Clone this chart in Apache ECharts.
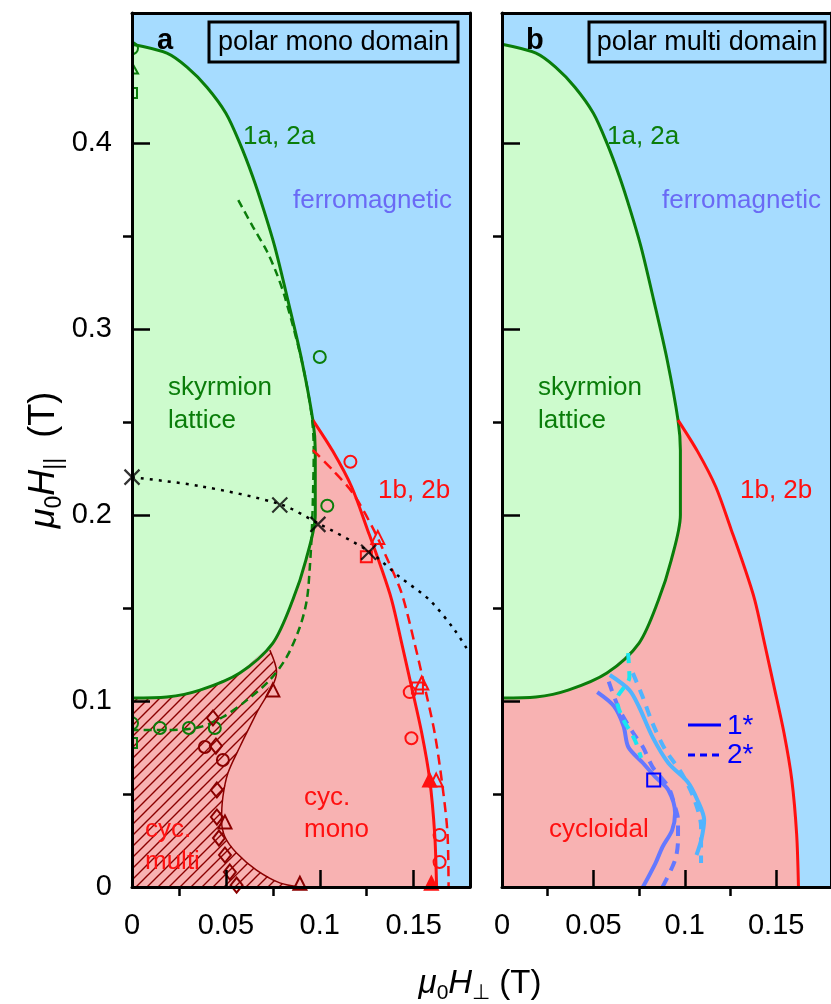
<!DOCTYPE html>
<html><head><meta charset="utf-8">
<script src="https://cdn.jsdelivr.net/npm/echarts@6/dist/echarts.min.js"></script>
<style>html,body{margin:0;padding:0;background:#fff}#c{width:831px;height:1004px}</style>
</head><body><div id="c"></div>
<script>
// ---------------- data ----------------
const xTicks = [0, 0.05, 0.1, 0.15];
const xMinorTicks = [0.025, 0.075, 0.125];
const yTicks = [0, 0.1, 0.2, 0.3, 0.4];
const yMinorTicks = [0.05, 0.15, 0.25, 0.35];

// skyrmion lattice boundary (solid green), from top of y axis round to bottom
const skyrmionBoundary = [[0,0.4532],[0.0186,0.4484],[0.0293,0.4409],[0.0399,0.4301],[0.05,0.4161],[0.0574,0.4],
  [0.0644,0.3817],[0.0702,0.364],[0.0761,0.3441],[0.083,0.3156],[0.0904,0.2833],[0.0963,0.2511],[0.0976,0.2349],
  [0.0976,0.2],[0.0926,0.1758],[0.0856,0.1543],[0.075,0.1312],[0.0574,0.1151],[0.0362,0.1059],[0.0186,0.1022],[0,0.1016]];
const junctionIndex = 11; // where the cycloidal boundary meets the skyrmion boundary
// cycloidal / ferromagnetic boundary (solid red)
const cycloidBoundary = [[0.0963,0.2511],[0.1069,0.2344],[0.117,0.2151],[0.1255,0.1919],[0.1324,0.1726],[0.1383,0.1543],
  [0.1436,0.1312],[0.1489,0.1075],[0.1543,0.0828],[0.1585,0.0581],[0.1612,0.0285],[0.1622,0]];
// multi-domain (hatched) boundary, thin dark red
const multiBoundary = [[0.0734,0.1274],[0.077,0.1158],[0.0663,0.0935],[0.0574,0.0753],[0.0511,0.0613],[0.0484,0.0484],
  [0.0477,0.036],[0.0495,0.0269],[0.0557,0.0183],[0.0663,0.0091],[0.0787,0.0022],[0.0894,0]];
// dashed green
const greenDashed = [[0.0566,0.3694],[0.0644,0.355],[0.0718,0.342],[0.077,0.330],[0.0815,0.317],[0.0904,0.283],
  [0.0955,0.255],[0.0968,0.235],[0.0963,0.2075],[0.0957,0.19],[0.0947,0.172],[0.0931,0.1543],[0.0894,0.1398],
  [0.0824,0.1237],[0.0734,0.1113],[0.0612,0.1005],[0.0484,0.0914],[0.0362,0.086],[0.0186,0.0844],[0,0.0844]];
// dashed red
const redDashed = [[0.0963,0.235],[0.1069,0.2242],[0.1176,0.2118],[0.128,0.1935],[0.137,0.174],[0.1436,0.158],
  [0.1505,0.131],[0.1559,0.1075],[0.1612,0.0828],[0.1654,0.0538],[0.168,0.029],[0.1686,0]];
// dotted black
const blackDotted = [[0,0.2204],[0.0362,0.2156],[0.0787,0.2059],[0.0989,0.1957],[0.126,0.1806],[0.1426,0.1667],
  [0.1585,0.1543],[0.1718,0.1382],[0.179,0.127]];

// markers panel a
const greenCircles = [[0.1,0.285],[0.104,0.205],[0.0149,0.0855],[0.0303,0.0855],[0.0441,0.0855]];
const greenEdgeCircles = [[0,0.451],[0,0.088]];
const greenEdgeTriangles = [[0,0.440]];
const greenEdgeSquares = [[0,0.427],[0,0.0774]];
const redCircles = [[0.1163,0.2287],[0.1479,0.1048],[0.1488,0.080],[0.1638,0.028],[0.1638,0.0134]];
const redSquares = [[0.1248,0.1776],[0.152,0.107]];
const redTriangles = [[0.1309,0.188],[0.1543,0.1097],[0.162,0.0575]];
const redFilled = [[0.1585,0.0575],[0.1594,0.002]];
const darkDiamonds = [[0.0431,0.0909],[0.0447,0.0758],[0.0452,0.0522],[0.0452,0.0376],[0.0463,0.0263],
  [0.0495,0.0172],[0.0521,0.0081],[0.0557,0.001]];
const darkCircles = [[0.0388,0.0753],[0.0484,0.0683]];
const darkTriangles = [[0.075,0.106],[0.0495,0.035],[0.0894,0.002]];
const crossMarks = [[0,0.2204],[0.0787,0.2054],[0.099,0.195],[0.126,0.180]];

// panel b curves
const curve1Dark = [[0.0521,0.1048],[0.0612,0.0973],[0.0665,0.0866],[0.0691,0.0753],[0.0771,0.0667],[0.0840,0.0591],
  [0.0910,0.0522],[0.0947,0.0398],[0.0931,0.0306],[0.0878,0.0215],[0.0840,0.0129],[0.0771,0]];
const curve2Dark = [[0.0584,0.1104],[0.0643,0.0952],[0.0718,0.0828],[0.0771,0.0753],[0.0824,0.0645],[0.091,0.0538],
  [0.0947,0.043],[0.0963,0.036],[0.0963,0.0253],[0.0947,0.0145],[0.0878,0]];
const curve1Light = [[0.0590,0.114],[0.0697,0.1059],[0.075,0.0968],[0.0824,0.0806],[0.091,0.0667],[0.1016,0.0565],
  [0.1069,0.0468],[0.1106,0.036],[0.109,0.0253],[0.1064,0.0172]];
const curve2Light = [[0.0716,0.115],[0.077,0.1022],[0.0823,0.0882],[0.0894,0.0737],[0.0982,0.0613],[0.1053,0.0468],
  [0.1089,0.0323],[0.1089,0.0129]];
const curve2Cyan = [[0.069,0.1258],[0.0697,0.1129],[0.0628,0.1005],[0.0665,0.0898],[0.0707,0.0828],[0.0734,0.0774],[0.0761,0.0694]];
const blueSquare = [[0.083,0.0575]];

// ---------------- styling ----------------
const FONT = '"Liberation Sans", Arial, sans-serif';
const C = {bg:'#a6dcff', green:'#cdfbcd', red:'#f8b2b2', gLine:'#0a7d0a', rLine:'#ff1010', dark:'#8b0000',
  ferro:'#6a6af5', blue1:'#6478ff', blue2:'#50b4ff', cyan:'#19e6f0'};

// hatch pattern tile
const S = 11;
const tile = document.createElement('canvas'); tile.width = S; tile.height = S;
const tc = tile.getContext('2d');
tc.strokeStyle = C.dark; tc.lineWidth = 1.4;
tc.beginPath();
tc.moveTo(0, S); tc.lineTo(S, 0);
tc.moveTo(-2, 2); tc.lineTo(2, -2);
tc.moveTo(S - 2, S + 2); tc.lineTo(S + 2, S - 2);
tc.stroke();

// derived region polygons
const greenRegion = skyrmionBoundary.slice();
const redRegion = [[0,0]].concat(skyrmionBoundary.slice(junctionIndex).reverse(), cycloidBoundary.slice(1));
const hatchRegion = [[0,0],[0,0.12]].concat(multiBoundary);

const grids = [{left:132, top:13, width:338, height:874}, {left:502, top:13, width:338, height:874}];

function axesFor(g, showLabels) {
  const xs = [
    {gridIndex:g, type:'value', min:0, max:0.18, z:10,
      axisLine:{show:true, onZero:false, lineStyle:{color:'#000', width:3}},
      axisTick:{show:true, inside:true, length:17, lineStyle:{color:'#000', width:2.5}, customValues:xTicks},
      axisLabel:{show:true, customValues:xTicks, formatter:v=>String(v), fontSize:29, fontFamily:FONT, color:'#000', margin:24},
      splitLine:{show:false}},
    {gridIndex:g, type:'value', min:0, max:0.18, z:10,
      axisLine:{show:false}, axisLabel:{show:false}, splitLine:{show:false},
      axisTick:{show:true, inside:true, length:9, lineStyle:{color:'#000', width:2.5}, customValues:xMinorTicks}},
    {gridIndex:g, type:'value', min:0, max:0.18, position:'top', z:10,
      axisLine:{show:true, onZero:false, lineStyle:{color:'#000', width:3}},
      axisTick:{show:false}, axisLabel:{show:false}, splitLine:{show:false}}
  ];
  const ys = [
    {gridIndex:g, type:'value', min:0, max:0.47, z:10,
      axisLine:{show:true, onZero:false, lineStyle:{color:'#000', width:3}},
      axisTick:{show:true, inside:true, length:18, lineStyle:{color:'#000', width:2.5}, customValues:yTicks},
      axisLabel:{show:showLabels, customValues:yTicks, formatter:v=>String(v), fontSize:29, fontFamily:FONT, color:'#000', margin:20},
      splitLine:{show:false}},
    {gridIndex:g, type:'value', min:0, max:0.47, z:10,
      axisLine:{show:false}, axisLabel:{show:false}, splitLine:{show:false},
      axisTick:{show:true, inside:true, length:9, lineStyle:{color:'#000', width:2.5}, customValues:yMinorTicks}},
    {gridIndex:g, type:'value', min:0, max:0.47, position:'right', z:10,
      axisLine:{show:true, onZero:false, lineStyle:{color:'#000', width:3}},
      axisTick:{show:false}, axisLabel:{show:false}, splitLine:{show:false}}
  ];
  return {xs, ys};
}
const A = axesFor(0, true), B = axesFor(1, false);

function poly(points, fill, g, z) {
  return {type:'custom', coordinateSystem:'cartesian2d', xAxisIndex:g*3, yAxisIndex:g*3, clip:true, silent:true, z,
    data:[[0,0]],
    renderItem:(p, api)=>({type:'polygon', shape:{points:points.map(pt=>api.coord(pt))}, style:{fill}})};
}
function line(points, color, width, type, g, z, smooth) {
  return {type:'line', xAxisIndex:g*3, yAxisIndex:g*3, data:points, showSymbol:false, silent:true, clip:true,
    smooth: smooth===undefined ? 0.3 : smooth, z:z||5, animation:false,
    lineStyle:{color, width, type: type||'solid', cap:'butt'}};
}
function marks(points, symbol, size, color, filled, g) {
  return {type:'scatter', xAxisIndex:g*3, yAxisIndex:g*3, data:points, symbol, symbolSize:size, z:8, silent:true,
    clip:false,
    itemStyle:{color: filled ? color : 'rgba(0,0,0,0)', borderColor:color, borderWidth:2, opacity:1}};
}
// markers on the axis edge, clipped to the plot area like in the original
function edgeMarks(points, kind, r, color) {
  return {type:'custom', coordinateSystem:'cartesian2d', xAxisIndex:0, yAxisIndex:0, clip:true, silent:true, z:8,
    data:points,
    renderItem:(p, api)=>{
      const c = api.coord([api.value(0), api.value(1)]);
      const st = {fill:'none', stroke:color, lineWidth:2};
      if (kind === 'circle') return {type:'circle', shape:{cx:c[0], cy:c[1], r}, style:st};
      if (kind === 'rect') return {type:'rect', shape:{x:c[0]-r, y:c[1]-r, width:2*r, height:2*r}, style:st};
      return {type:'polygon', shape:{points:[[c[0], c[1]-r],[c[0]+r, c[1]+r*0.8],[c[0]-r, c[1]+r*0.8]]}, style:st};
    }};
}
const crossSym = 'path://M0,0L10,10M10,0L0,10';

const series = [];
for (const g of [0,1]) series.push(poly(redRegion, C.red, g, 1));
series.push(poly(hatchRegion, {image: tile, repeat:'repeat'}, 0, 2));
for (const g of [0,1]) {
  series.push(poly(greenRegion, C.green, g, 3));
  series.push(line(skyrmionBoundary, C.gLine, 3, 'solid', g, 6));
  series.push(line(cycloidBoundary, C.rLine, 3, 'solid', g, 6));
}
// panel a extras
series.push(line(multiBoundary, C.dark, 1.5, 'solid', 0, 5));
series.push(line(greenDashed, C.gLine, 2.5, [8,5], 0, 6));
series.push(line(redDashed, C.rLine, 2.5, [10,6], 0, 6));
series.push(line(blackDotted, '#000', 2.5, [3,6], 0, 6));
series.push(marks(greenCircles, 'circle', 12, C.gLine, false, 0));
series.push(edgeMarks(greenEdgeCircles, 'circle', 6, C.gLine));
series.push(edgeMarks(greenEdgeTriangles, 'triangle', 6, C.gLine));
series.push(edgeMarks(greenEdgeSquares, 'rect', 5, C.gLine));
series.push(marks(redCircles, 'circle', 12, C.rLine, false, 0));
series.push(marks(redSquares, 'rect', 11, C.rLine, false, 0));
series.push(marks(redTriangles, 'triangle', 13, C.rLine, false, 0));
series.push(marks(redFilled, 'triangle', 13, C.rLine, true, 0));
series.push(marks(darkDiamonds, 'diamond', [12,15], C.dark, false, 0));
series.push(marks(darkCircles, 'circle', 12, C.dark, false, 0));
series.push(marks(darkTriangles, 'triangle', 13, C.dark, false, 0));
series.push({type:'scatter', xAxisIndex:0, yAxisIndex:0, data:crossMarks, symbol:crossSym, symbolSize:15, z:9, silent:true,
  itemStyle:{color:'rgba(0,0,0,0)', borderColor:'#000', borderWidth:2.2}});
// panel b extras
series.push(line(curve1Dark, C.blue1, 4, 'solid', 1, 6));
series.push(line(curve2Dark, C.blue1, 4, [10,8], 1, 6));
series.push(line(curve1Light, C.blue2, 4, 'solid', 1, 6));
series.push(line(curve2Light, C.blue2, 4, [10,8], 1, 6));
series.push(line(curve2Cyan, C.cyan, 4, [10,8], 1, 7));
series.push(marks(blueSquare, 'rect', 13, '#0000ff', false, 1));

function txt(x, y, text, fill, size, extra) {
  return {type:'text', x, y, z:100, silent:true,
    style:{text, fill, font:(extra&&extra.bold?'bold ':'')+size+'px '+FONT, textAlign:(extra&&extra.align)||'left', textVerticalAlign:'middle'}};
}
const titleRich = {i:{fontStyle:'italic', fontSize:36, fontFamily:FONT, fill:'#000'},
                   s:{fontSize:23, fontFamily:FONT, fill:'#000', verticalAlign:'bottom', lineHeight:44}};
const graphic = [
  txt(157, 41, 'a', '#000', 29, {bold:true}),
  {type:'rect', z:100, silent:true, shape:{x:209, y:22, width:249, height:40}, style:{fill:'none', stroke:'#000', lineWidth:3}},
  txt(333.5, 43, 'polar mono domain', '#000', 27, {align:'center'}),
  txt(243, 137, '1a, 2a', C.gLine, 26),
  txt(293, 201, 'ferromagnetic', C.ferro, 26),
  txt(168, 388, 'skyrmion', C.gLine, 26),
  txt(168, 421, 'lattice', C.gLine, 26),
  txt(378, 491, '1b, 2b', C.rLine, 26),
  txt(304, 798, 'cyc.', C.rLine, 26),
  txt(304, 830, 'mono', C.rLine, 26),
  txt(145, 830, 'cyc.', C.rLine, 26),
  txt(145, 862, 'multi', C.rLine, 26),

  txt(526, 41, 'b', '#000', 29, {bold:true}),
  {type:'rect', z:100, silent:true, shape:{x:589, y:22, width:236, height:40}, style:{fill:'none', stroke:'#000', lineWidth:3}},
  txt(707, 43, 'polar multi domain', '#000', 27, {align:'center'}),
  txt(607, 137, '1a, 2a', C.gLine, 26),
  txt(662, 201, 'ferromagnetic', C.ferro, 26),
  txt(538, 388, 'skyrmion', C.gLine, 26),
  txt(538, 421, 'lattice', C.gLine, 26),
  txt(740, 491, '1b, 2b', C.rLine, 26),
  txt(549, 830, 'cycloidal', C.rLine, 26),
  {type:'line', z:100, silent:true, shape:{x1:688, y1:725, x2:721, y2:725}, style:{stroke:'#0000ff', lineWidth:3}},
  {type:'line', z:100, silent:true, shape:{x1:688, y1:755, x2:721, y2:755}, style:{stroke:'#0000ff', lineWidth:3, lineDash:[7,5]}},
  txt(727, 726, '1*', '#0000ff', 28),
  txt(727, 755, '2*', '#0000ff', 28),

  {type:'text', x:44, y:460, rotation:Math.PI/2, z:100, silent:true,
    style:{text:'{i|μ}{s|0}{i|H}{s|||}  (T)', fill:'#000', font:'36px '+FONT, textAlign:'center', textVerticalAlign:'middle', rich:titleRich}},
  {type:'text', x:480, y:984, z:100, silent:true,
    style:{text:'{i|μ}{s|0}{i|H}{s|⊥} (T)', fill:'#000', font:'33px '+FONT, textAlign:'center', textVerticalAlign:'middle',
      rich:{i:{fontStyle:'italic', fontSize:33, fontFamily:FONT, fill:'#000'},
            s:{fontSize:21, fontFamily:FONT, fill:'#000', verticalAlign:'bottom', lineHeight:40}}}}
];

const chart = echarts.init(document.getElementById('c'), null, {renderer:'canvas'});
chart.setOption({
  animation:false,
  backgroundColor:'#fff',
  grid: grids.map(g=>Object.assign({show:true, backgroundColor:C.bg, borderWidth:0, containLabel:false}, g)),
  xAxis: A.xs.concat(B.xs),
  yAxis: A.ys.concat(B.ys),
  series,
  graphic
});
</script></body></html>
